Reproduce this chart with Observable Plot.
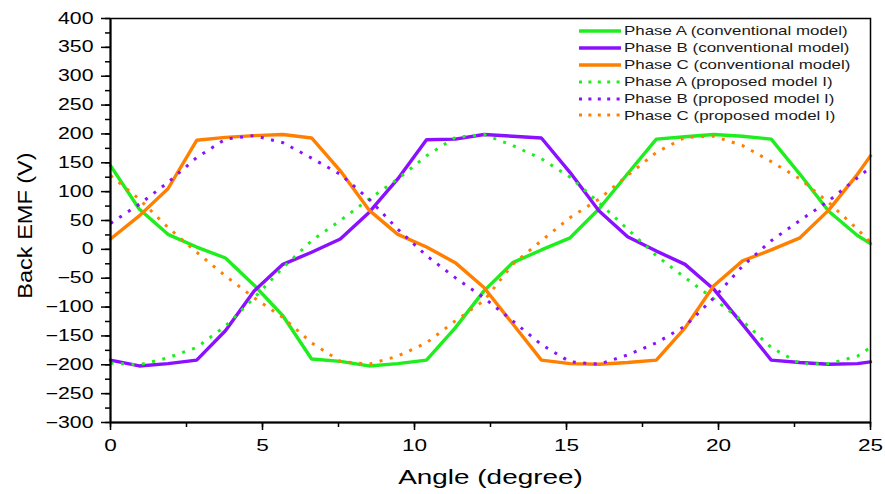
<!DOCTYPE html>
<html><head><meta charset="utf-8">
<script src="https://cdn.jsdelivr.net/npm/d3@7"></script>
<script src="https://cdn.jsdelivr.net/npm/@observablehq/plot@0.6"></script>
<style>
html,body{margin:0;padding:0;background:#fff;}
#wrap{position:relative;width:885px;height:494px;font-family:"Liberation Sans",Arial,sans-serif;}
#legend{position:absolute;left:579px;top:22.5px;}
.row{display:flex;align-items:center;height:16.9px;}
.row svg{display:block;flex:none;}
.row span{display:inline-block;font-size:13px;color:#1a1a1a;transform:scaleX(1.3);transform-origin:0 50%;margin-left:3px;white-space:nowrap;line-height:1;}
</style></head><body><div id="wrap"></div>
<script>
// Angle samples (degree)
const angle = [0, 0.945, 1.89, 2.835, 3.78, 4.725, 5.67, 6.615, 7.56, 8.505, 9.45, 10.395, 11.34, 12.285, 13.23, 14.175, 15.12, 16.065, 17.01, 17.955, 18.9, 19.845, 20.79, 21.735, 22.68, 23.625, 24.57, 25];

// Conventional model (solid)
const phaseA_conv = [145, 70, 26, 4, -15, -62, -115, -190, -194, -202, -198, -192, -136, -72, -23, -1, 20, 70, 131, 191, 195, 199, 196, 191, 130, 66, 24, 10];
const phaseB_conv = [-192, -202, -198, -192, -141, -72, -26, -5, 18, 64, 122, 190, 191, 199, 196, 193, 133, 67, 22, -3, -26, -69, -130, -192, -196, -199, -198, -195];
const phaseC_conv = [18, 58, 105, 189, 194, 197, 199, 193, 136, 68, 26, 4, -23, -66, -129, -192, -198, -199, -196, -192, -136, -63, -20, -1, 20, 68, 130, 162];

// Proposed model I (dotted)
const phaseA_prop = [-197, -200, -188, -170, -133, -84, -32, 15, 50, 87, 122, 162, 194, 199, 180, 157, 125, 81, 35, -11, -49, -86, -124, -170, -198, -198, -185, -170];
const phaseB_prop = [45, 78, 116, 159, 191, 197, 185, 158, 130, 87, 35, -11, -49, -84, -124, -165, -195, -199, -183, -162, -133, -84, -29, 15, 50, 84, 124, 142];
const phaseC_prop = [128, 87, 38, -5, -46, -84, -118, -162, -194, -199, -185, -162, -124, -89, -26, 15, 55, 87, 128, 168, 194, 196, 180, 152, 122, 81, 35, 12];

const phases = ["Phase A", "Phase B", "Phase C"];
const phaseColors = ["#1eee1e", "#8a10ff", "#ff8000"];
const legendLabels = [
  "Phase A (conventional model)", "Phase B (conventional model)", "Phase C (conventional model)",
  "Phase A (proposed model I)", "Phase B (proposed model I)", "Phase C (proposed model I)"
];
const xTicks = [0, 5, 10, 15, 20, 25];
const xMinorTicks = [0, 2.5, 5, 7.5, 10, 12.5, 15, 17.5, 20, 22.5, 25];
const yTicks = [-300, -250, -200, -150, -100, -50, 0, 50, 100, 150, 200, 250, 300, 350, 400];
const yMinorTicks = d3.range(-300, 401, 25);
const xLabel = "Angle (degree)";
const yLabel = "Back EMF (V)";

const conv = [], prop = [];
function add(target, values, phase) { values.forEach((v, i) => target.push({angle: angle[i], emf: v, phase})); }
add(conv, phaseA_conv, phases[0]); add(conv, phaseB_conv, phases[1]); add(conv, phaseC_conv, phases[2]);
add(prop, phaseA_prop, phases[0]); add(prop, phaseB_prop, phases[1]); add(prop, phaseC_prop, phases[2]);

const chart = Plot.plot({
  width: 885, height: 494,
  marginLeft: 110, marginRight: 15, marginTop: 18, marginBottom: 72,
  style: {fontFamily: '"Liberation Sans", Arial, sans-serif', background: "white", color: "black"},
  x: {domain: [0, 25]},
  y: {domain: [-300, 400]},
  color: {domain: phases, range: phaseColors},
  marks: [
    Plot.line(conv, {x: "angle", y: "emf", stroke: "phase", z: "phase", strokeWidth: 3.4, strokeLinejoin: "miter"}),
    Plot.line(prop, {x: "angle", y: "emf", stroke: "phase", z: "phase", strokeWidth: 3, strokeDasharray: "3,7.5", strokeLinecap: "butt"}),
    Plot.frame({stroke: "black", strokeWidth: 1.5}),
    Plot.ruleX([0], {stroke: "black", strokeWidth: 2}),
    Plot.ruleY([-300], {stroke: "black", strokeWidth: 2}),
    Plot.axisY({ticks: yTicks, tickSize: 9, tickPadding: 8, fontSize: 16, strokeWidth: 1.5, label: null}),
    Plot.axisY({ticks: yMinorTicks, tickSize: 5, tickFormat: () => "", strokeWidth: 1.5, label: null}),
    Plot.axisX({ticks: xTicks, tickSize: 8, tickPadding: 8, fontSize: 17, strokeWidth: 1.5, label: null}),
    Plot.axisX({ticks: xMinorTicks, tickSize: 5, tickFormat: () => "", strokeWidth: 1.5, label: null}),
    Plot.text([xLabel], {text: d => d, frameAnchor: "bottom", dy: 55, lineAnchor: "middle", textAnchor: "middle", fontSize: 21}),
    Plot.text([yLabel], {text: d => d, frameAnchor: "left", dx: -85, dy: 5, rotate: -90, lineAnchor: "middle", textAnchor: "middle", fontSize: 21})
  ]
});

// widen glyphs to mimic the reference's wider text rendering
chart.querySelectorAll("text").forEach(t => {
  if (!t.textContent) return;
  let tr = t.getAttribute("transform");
  if (!tr) {
    const x = t.getAttribute("x") || 0, y = t.getAttribute("y") || 0;
    t.removeAttribute("x"); t.removeAttribute("y");
    tr = `translate(${x},${y})`;
  }
  const k = tr.includes("rotate") ? 1.12 : 1.33;
  t.setAttribute("transform", tr + ` scale(${k},1)`);
});

const wrap = document.getElementById("wrap");
wrap.appendChild(chart);

const legend = document.createElement("div");
legend.id = "legend";
legendLabels.forEach((label, i) => {
  const row = document.createElement("div");
  row.className = "row";
  const color = phaseColors[i % 3];
  const dotted = i >= 3;
  row.innerHTML = `<svg width="42" height="10"><line x1="0" x2="42" y1="5" y2="5" stroke="${color}" stroke-width="${dotted ? 3 : 3.4}" ${dotted ? 'stroke-dasharray="3,6.4"' : ''}/></svg><span>${label}</span>`;
  legend.appendChild(row);
});
wrap.appendChild(legend);
</script></body></html>
